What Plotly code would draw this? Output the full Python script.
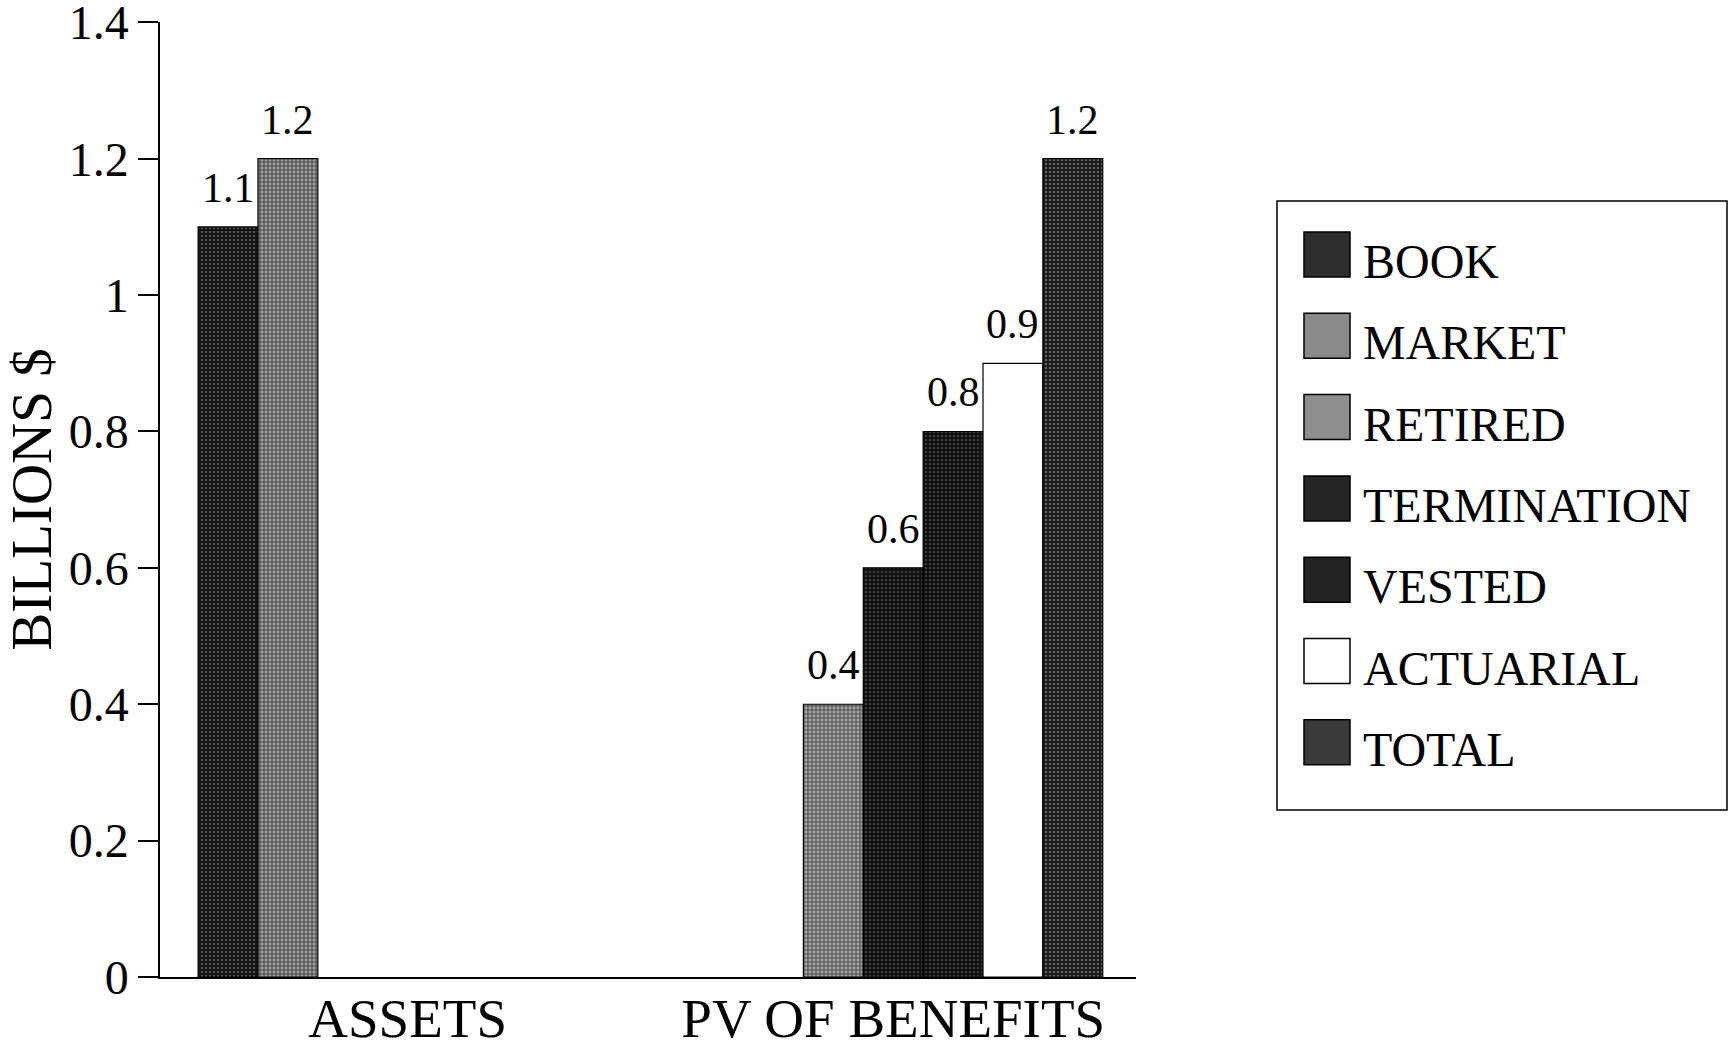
import plotly.graph_objects as go

# ---- data -------------------------------------------------------------
categories = ["ASSETS", "PV OF BENEFITS"]
series_names = ["BOOK", "MARKET", "RETIRED", "TERMINATION", "VESTED", "ACTUARIAL", "TOTAL"]
book = [1.1, None]
market = [1.2, None]
retired = [None, 0.4]
termination = [None, 0.6]
vested = [None, 0.8]
actuarial = [None, 0.9]
total = [None, 1.2]
y_ticks = [0, 0.2, 0.4, 0.6, 0.8, 1.0, 1.2, 1.4]

series_values = [book, market, retired, termination, vested, actuarial, total]

# ---- styles -----------------------------------------------------------
FONT = "Liberation Serif, Times New Roman, serif"
# (background, speckle colour, speckle solidity, swatch colour)
styles = [
    ("#141414", "#d0d0d0", 0.18, "#2e2e2e"),
    ("#5a5a5a", "#e8e8e8", 0.40, "#8a8a8a"),
    ("#606060", "#ececec", 0.42, "#8e8e8e"),
    ("#101010", "#c8c8c8", 0.15, "#252525"),
    ("#101010", "#c8c8c8", 0.14, "#232323"),
    ("#ffffff", "#ffffff", 0.0, "#ffffff"),
    ("#1c1c1c", "#d8d8d8", 0.22, "#3a3a3a"),
]

W, H = 1729, 1044
ML, MR, MT, MB = 160, 593, 22, 67
PW, PH = W - ML - MR, H - MT - MB
X_RANGE = [-0.51, 1.5]
BARGAP = 0.137


def px_x(px):
    return (px - ML) / PW


def px_y(py):
    return (H - MB - py) / PH


fig = go.Figure()
for name, vals, (bg, fg, sol, _) in zip(series_names, series_values, styles):
    pattern = dict(shape=".", bgcolor=bg, fgcolor=fg, size=4, solidity=sol) if sol > 0 else None
    fig.add_trace(go.Bar(
        name=name,
        x=categories,
        y=vals,
        marker=dict(color=bg, line=dict(color="black", width=1.2), pattern=pattern),
        showlegend=False,
    ))

annotations = []

# value labels above each bar (slot offset follows the grouped-bar layout)
slot_px = PW / (X_RANGE[1] - X_RANGE[0]) * (1 - BARGAP) / len(series_names)
for i, vals in enumerate(series_values):
    for cat, v in zip(categories, vals):
        if v is None:
            continue
        annotations.append(dict(
            x=cat, y=v, xref="x", yref="y", showarrow=False,
            xshift=(i - (len(series_names) - 1) / 2) * slot_px, yshift=39,
            xanchor="center", yanchor="middle",
            text=f"{v:g}", font=dict(family=FONT, size=42, color="black"),
        ))

# ---- legend box drawn as shapes + text ---------------------------------
shapes = [dict(type="rect", xref="paper", yref="paper",
               x0=px_x(1277), x1=px_x(1727), y0=px_y(810), y1=px_y(201),
               line=dict(color="black", width=1.5), fillcolor="rgba(0,0,0,0)")]
for i, (name, st) in enumerate(zip(series_names, styles)):
    cy = 254.5 + i * 81.3
    shapes.append(dict(type="rect", xref="paper", yref="paper",
                       x0=px_x(1304), x1=px_x(1350), y0=px_y(cy + 22.5), y1=px_y(cy - 22.5),
                       line=dict(color="black", width=1.5), fillcolor=st[3]))
    annotations.append(dict(xref="paper", yref="paper", x=px_x(1361), y=px_y(cy + 7),
                            xanchor="left", yanchor="middle", showarrow=False,
                            text=name, font=dict(family=FONT, size=48, color="black")))

fig.update_layout(
    width=W, height=H,
    margin=dict(l=ML, r=MR, t=MT, b=MB, pad=0, autoexpand=False),
    paper_bgcolor="white", plot_bgcolor="white",
    barmode="group", bargap=BARGAP, bargroupgap=0,
    font=dict(family=FONT, color="black"),
    shapes=shapes, annotations=annotations,
    xaxis=dict(
        range=X_RANGE, showline=True, linecolor="black", linewidth=1.5,
        ticks="", showgrid=False, zeroline=False, automargin=False,
        tickfont=dict(family=FONT, size=55), ticklabelstandoff=-8,
        ticklabeloverflow="allow",
    ),
    yaxis=dict(
        range=[0, 1.4005], tickvals=y_ticks, ticktext=[f"{v:g}" for v in y_ticks],
        showline=True, linecolor="black", linewidth=1.5,
        ticks="outside", ticklen=20, tickwidth=1.5, tickcolor="black",
        showgrid=False, zeroline=False, automargin=False,
        ticklabeloverflow="allow",
        tickfont=dict(family=FONT, size=48),
        title=dict(text="BILLIONS $", font=dict(family=FONT, size=57), standoff=6),
    ),
)

fig.write_html("out.html")
